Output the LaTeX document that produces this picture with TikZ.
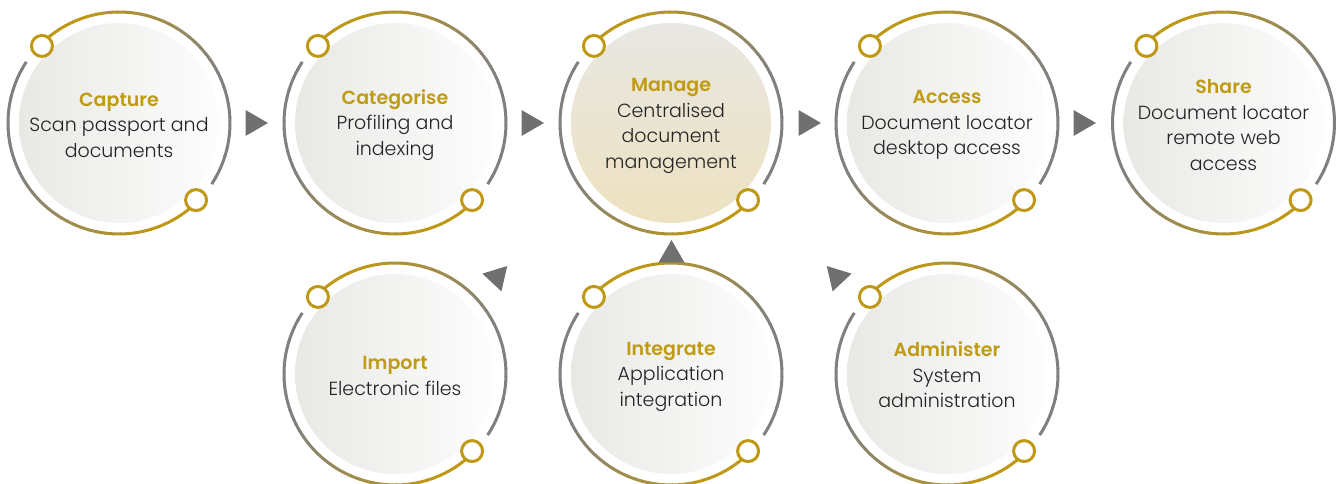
\documentclass[tikz,border=0pt]{standalone}
\usepackage{fontspec}
\usetikzlibrary{shapes.geometric}
\IfFontExistsTF{Poppins Light}{\newfontfamily\bodyf{Poppins Light}}{\newfontfamily\bodyf{Poppins}}
\IfFontExistsTF{Poppins SemiBold}{\newfontfamily\titlef{Poppins SemiBold}}{\newfontfamily\titlef{Poppins}}
\definecolor{goldc}{RGB}{191,153,22}
\definecolor{ringc}{RGB}{128,128,128}
\definecolor{arrowc}{RGB}{112,112,112}
\definecolor{titlec}{RGB}{192,155,20}
\definecolor{textc}{RGB}{35,35,35}
\definecolor{fillL}{RGB}{232,232,229}
\definecolor{fillR}{RGB}{253,253,253}
\definecolor{mtop}{RGB}{232,231,227}
\definecolor{mbot}{RGB}{237,226,192}
\tikzset{
  disc/.style={circle, minimum size=200pt, inner sep=0pt, left color=fillL, right color=fillR, draw=none},
  mdisc/.style={disc, top color=mtop, bottom color=mbot},
  txt/.style={align=center, inner sep=0pt, font=\bodyf\fontsize{19}{25.5}\selectfont, text=textc},
  tri/.style={regular polygon, regular polygon sides=3, minimum size=30pt, inner sep=0pt,
    fill=arrowc, draw=none},
  knob/.style={circle, minimum size=21pt, inner sep=0pt, draw=goldc, line width=3pt, fill=white},
}
\newcommand\ttl[1]{{\titlef\color{titlec}#1}}
\newcommand\ringat[1]{%
  \foreach \s in {135,-45}{%
    \foreach \i in {0,...,41}{%
      \pgfmathsetmacro\p{min(100,max(0,(0.65-\i/41)*200))}%
      \pgfmathsetmacro\a{\s-\i*4}%
      \draw[line width=3pt, draw=goldc!\p!ringc] ([shift={(#1.center)}]\a:111) arc[start angle=\a, end angle=\a-4.4, radius=111];
    }%
  }%
  \node[knob] (#1-ka) at ([shift={(#1.center)}]135:109) {};
  \node[knob] (#1-kb) at ([shift={(#1.center)}]-45:109) {};
}
\begin{document}
\begin{tikzpicture}[x=1pt, y=1pt]
\useasboundingbox (0,0) rectangle (1343,484);
% top row
\node[disc] (capture) at (119,361) {};
\node[disc] (categorise) at (395,361) {};
\node[mdisc] (manage) at (671,361) {};
\node[disc] (access) at (947,361) {};
\node[disc] (share) at (1223.5,361) {};
% bottom row
\node[disc] (import) at (395,110) {};
\node[disc] (integrate) at (671,110) {};
\node[disc] (administer) at (947,110) {};
% texts
\node[txt] (capture-t) at ([yshift=-2pt]capture.center) {\ttl{Capture}\\Scan passport and\\documents};
\node[txt] (categorise-t) at ([yshift=-2pt]categorise.center) {\ttl{Categorise}\\Profiling and\\indexing};
\node[txt] (manage-t) at ([yshift=-3pt]manage.center) {\ttl{Manage}\\Centralised\\document\\management};
\node[txt] (access-t) at ([yshift=-2pt]access.center) {\ttl{Access}\\Document locator\\desktop access};
\node[txt] (share-t) at ([yshift=-2pt]share.center) {\ttl{Share}\\Document locator\\remote web\\access};
\node[txt] (import-t) at ([yshift=-2pt]import.center) {\ttl{Import}\\Electronic files};
\node[txt] (integrate-t) at ([yshift=-2.5pt]integrate.center) {\ttl{Integrate}\\Application\\integration};
\node[txt] (administer-t) at ([yshift=-1pt]administer.center) {\ttl{Administer}\\System\\administration};
% rings
\ringat{capture}
\ringat{categorise}
\ringat{manage}
\ringat{access}
\ringat{share}
\ringat{import}
\ringat{integrate}
\ringat{administer}
% arrows
\node[tri, shape border rotate=-90] (a1) at (253,361) {};
\node[tri, shape border rotate=-90] (a2) at (529,361) {};
\node[tri, shape border rotate=-90] (a3) at (806,361) {};
\node[tri, shape border rotate=-90] (a4) at (1081,361) {};
\node[tri] (a5) at (671.5,229) {};
\node[tri, shape border rotate=-43] (a6) at (497,207) {};
\node[tri, shape border rotate=43] (a7) at (837,207) {};
\end{tikzpicture}
\end{document}
